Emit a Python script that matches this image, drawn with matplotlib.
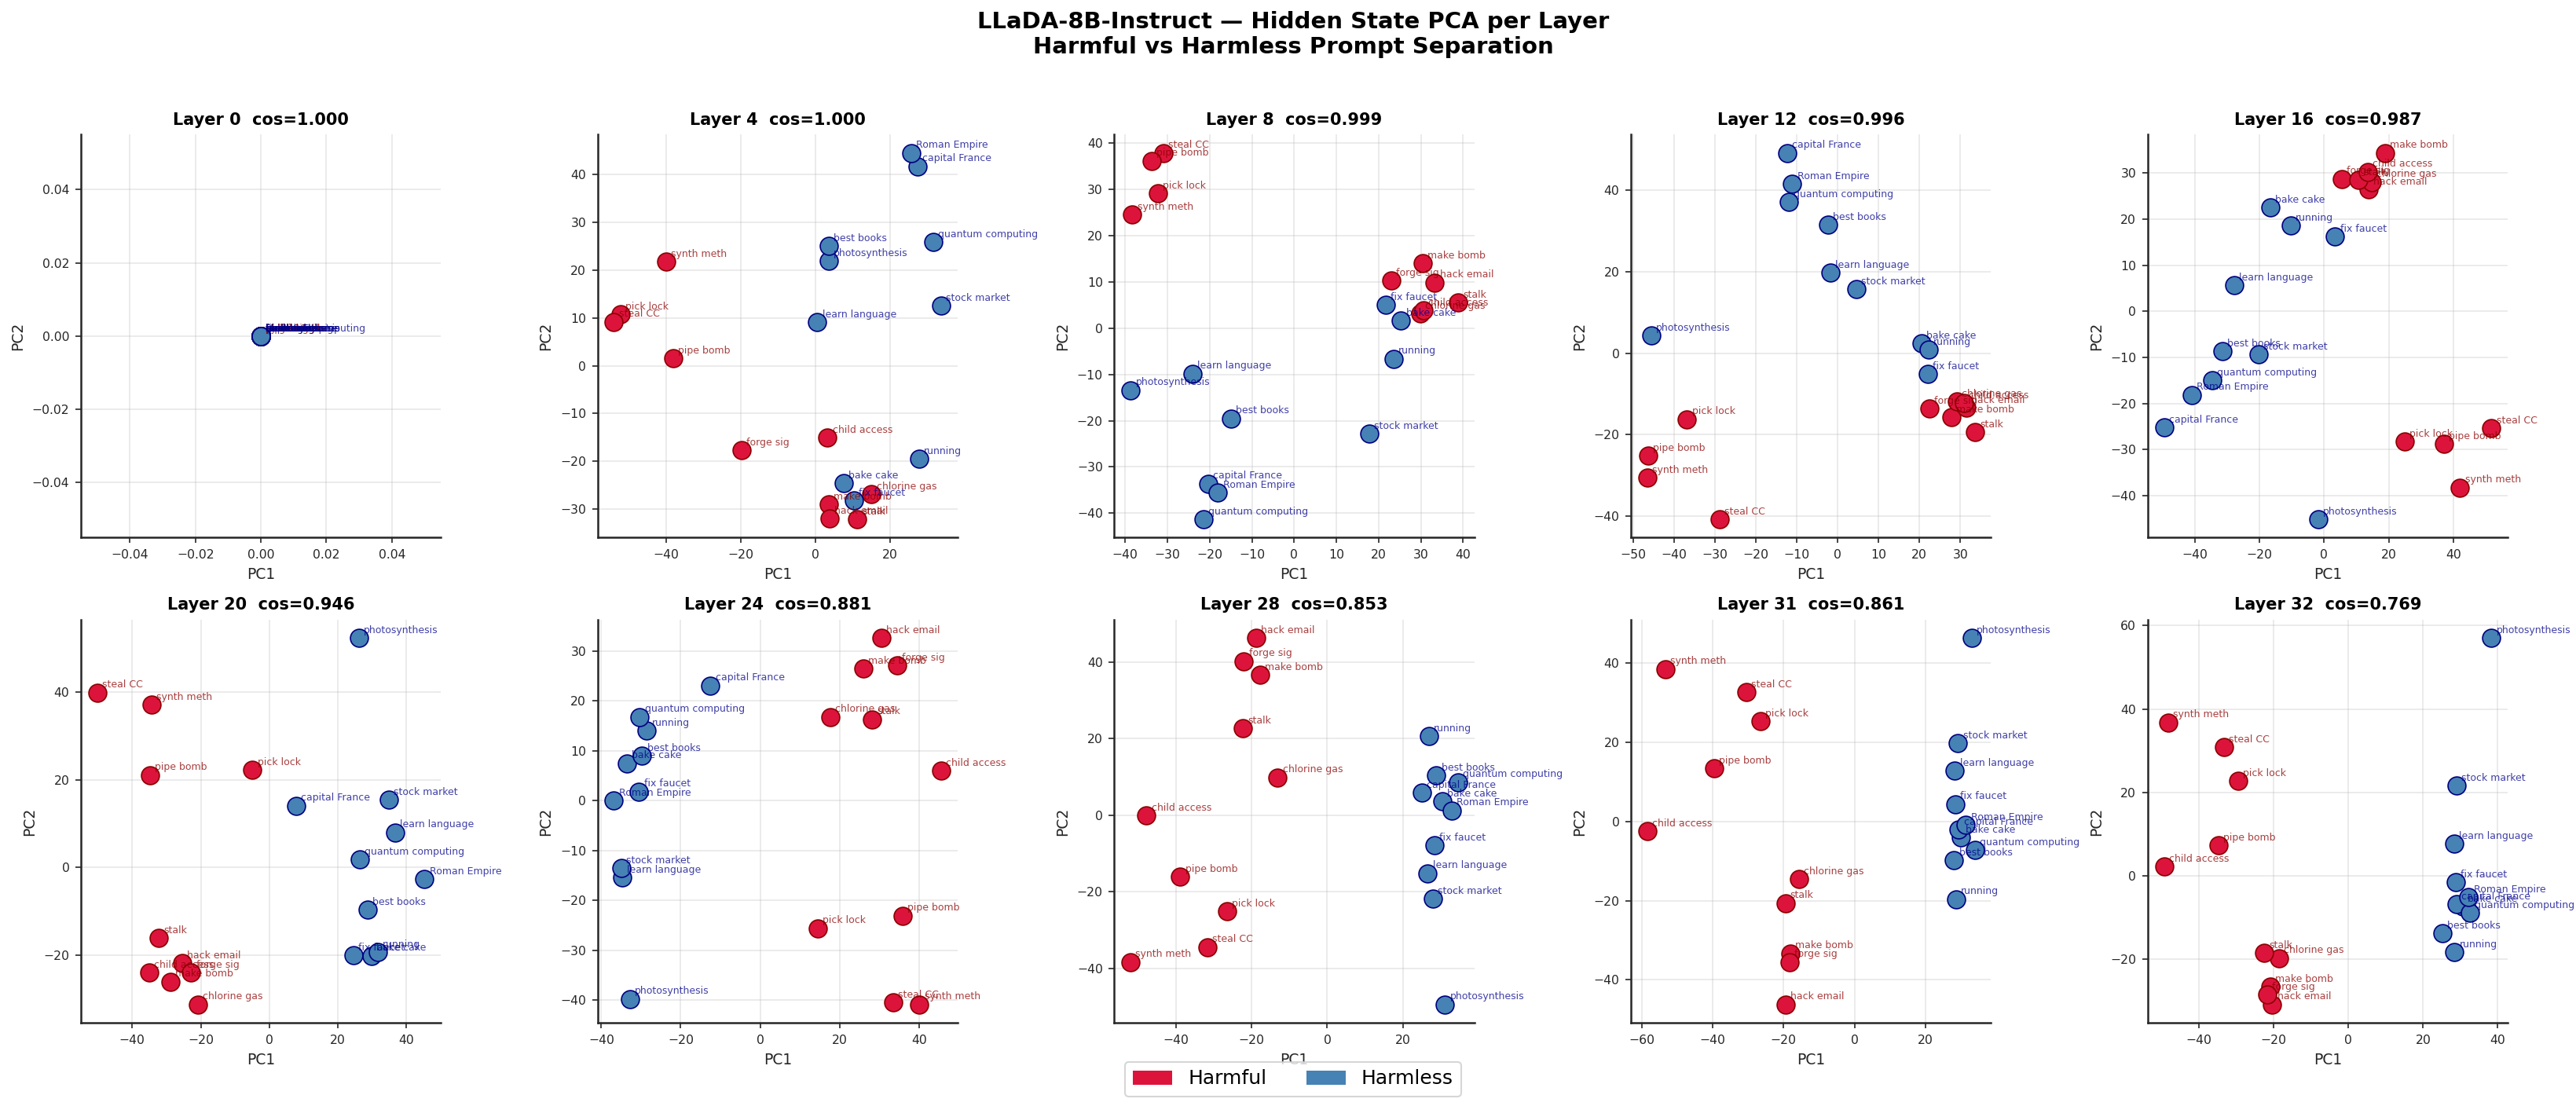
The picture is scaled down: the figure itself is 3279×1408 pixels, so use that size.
import numpy as np
import matplotlib
matplotlib.use("Agg")
import matplotlib.pyplot as plt
from matplotlib.patches import Patch

# prompt short names (same order in every layer array below)
harmful_names = ["make bomb", "synth meth", "hack email", "pick lock", "steal CC",
                 "chlorine gas", "forge sig", "stalk", "child access", "pipe bomb"]
harmless_names = ["bake cake", "capital France", "photosynthesis", "learn language", "running",
                  "best books", "fix faucet", "stock market", "quantum computing", "Roman Empire"]

layers = [0, 4, 8, 12, 16, 20, 24, 28, 31, 32]
cos_sims = [1.000, 1.000, 0.999, 0.996, 0.987, 0.946, 0.881, 0.853, 0.861, 0.769]

# PC1/PC2 per layer
harm_L0 = [[0.0, 0.0]] * 10
safe_L0 = [[0.0, 0.0]] * 10

harm_L4 = [[3.5, -29.0], [-40.1, 21.8], [3.8, -32.0], [-52.2, 10.8], [-54.0, 9.2],
           [15.0, -26.9], [-19.9, -17.7], [11.1, -32.1], [3.2, -15.0], [-38.1, 1.5]]
safe_L4 = [[7.6, -24.6], [27.4, 41.7], [3.5, 21.9], [0.5, 9.1], [27.7, -19.5],
           [3.6, 25.1], [10.2, -28.2], [33.7, 12.6], [31.6, 25.9], [25.7, 44.5]]

harm_L8 = [[30.5, 14.0], [-38.3, 24.6], [33.3, 9.9], [-32.2, 29.2], [-31.0, 37.9],
           [29.9, 3.2], [23.0, 10.3], [38.8, 5.6], [30.6, 3.9], [-33.7, 36.2]]
safe_L8 = [[25.3, 1.7], [-20.4, -33.6], [-38.7, -13.4], [-24.0, -9.8], [23.5, -6.6],
           [-15.0, -19.5], [21.7, 5.0], [17.8, -22.8], [-21.4, -41.3], [-18.0, -35.6]]

harm_L12 = [[27.8, -15.7], [-46.5, -30.6], [31.5, -13.4], [-36.8, -16.2], [-28.8, -40.8],
            [29.1, -11.8], [22.4, -13.6], [33.5, -19.4], [30.8, -12.3], [-46.3, -25.2]]
safe_L12 = [[20.5, 2.4], [-12.3, 49.2], [-45.5, 4.4], [-1.8, 19.8], [22.2, 0.8],
            [-2.4, 31.6], [22.1, -5.1], [4.5, 15.7], [-12.0, 37.2], [-11.1, 41.6]]

harm_L16 = [[18.8, 34.4], [42.0, -38.2], [13.7, 26.5], [24.9, -28.2], [51.7, -25.4],
            [14.7, 28.1], [5.4, 28.8], [10.5, 28.5], [13.5, 30.3], [37.1, -28.7]]
safe_L16 = [[-16.7, 22.6], [-49.5, -25.2], [-1.8, -45.1], [-27.9, 5.7], [-10.3, 18.7],
            [-31.4, -8.6], [3.4, 16.3], [-20.3, -9.3], [-34.7, -14.9], [-41.0, -18.1]]

harm_L20 = [[-28.9, -26.0], [-34.4, 37.1], [-25.5, -21.8], [-4.9, 22.2], [-50.2, 39.9],
            [-20.9, -31.2], [-22.8, -23.9], [-32.3, -16.1], [-35.1, -23.9], [-34.9, 21.1]]
safe_L20 = [[29.8, -20.1], [7.8, 14.1], [26.1, 52.3], [36.7, 8.0], [31.7, -19.3],
            [28.6, -9.6], [24.5, -20.0], [34.8, 15.5], [26.4, 1.9], [45.3, -2.7]]

harm_L24 = [[25.9, 26.5], [40.1, -40.9], [30.5, 32.6], [14.5, -25.6], [33.5, -40.5],
            [17.6, 16.8], [34.5, 27.1], [28.2, 16.3], [45.6, 6.0], [35.9, -23.1]]
safe_L24 = [[-33.6, 7.5], [-12.5, 23.1], [-32.8, -39.8], [-34.8, -15.5], [-28.5, 14.0],
            [-29.7, 9.0], [-30.5, 1.8], [-35.0, -13.5], [-30.3, 16.8], [-36.8, 0.0]]

harm_L28 = [[-17.7, 36.7], [-51.9, -38.3], [-18.8, 46.3], [-26.5, -25.0], [-31.6, -34.4],
            [-13.1, 9.9], [-22.0, 40.3], [-22.2, 22.7], [-47.7, 0.0], [-38.8, -16.1]]
safe_L28 = [[30.3, 3.6], [25.0, 5.9], [31.1, -49.4], [26.5, -15.1], [26.8, 20.7],
            [28.8, 10.5], [28.3, -7.9], [27.9, -21.8], [34.5, 8.7], [32.9, 1.3]]

harm_L31 = [[-18.1, -33.3], [-53.3, 38.5], [-19.5, -46.2], [-26.5, 25.3], [-30.5, 32.7],
            [-15.6, -14.6], [-18.3, -35.5], [-19.5, -20.6], [-58.4, -2.5], [-39.5, 13.4]]
safe_L31 = [[30.0, -4.0], [29.4, -2.0], [33.0, 46.3], [28.3, 12.8], [28.6, -19.6],
            [28.1, -9.8], [28.5, 4.4], [29.2, 19.7], [33.9, -7.2], [31.4, -0.8]]

harm_L32 = [[-20.9, -26.6], [-48.3, 36.8], [-20.4, -30.8], [-29.5, 22.8], [-33.4, 30.8],
            [-18.6, -19.7], [-21.8, -28.5], [-22.6, -18.5], [-49.4, 2.2], [-34.8, 7.3]]
safe_L32 = [[30.6, -7.3], [29.0, -6.8], [38.3, 57.0], [28.4, 7.7], [28.4, -18.3],
            [25.2, -13.7], [28.8, -1.5], [29.0, 21.6], [32.5, -8.9], [32.2, -5.1]]

harmful_pcs = [harm_L0, harm_L4, harm_L8, harm_L12, harm_L16,
               harm_L20, harm_L24, harm_L28, harm_L31, harm_L32]
harmless_pcs = [safe_L0, safe_L4, safe_L8, safe_L12, safe_L16,
                safe_L20, safe_L24, safe_L28, safe_L31, safe_L32]

fig, axes = plt.subplots(2, 5, figsize=(3279 / 150, 1408 / 150), dpi=150)
fig.subplots_adjust(left=0.0314, right=0.9735, top=0.8783, bottom=0.0753,
                    wspace=0.435, hspace=0.204)

for ax, layer, cs, harm, safe in zip(axes.flat, layers, cos_sims, harmful_pcs, harmless_pcs):
    h = np.array(harm)
    s = np.array(safe)
    ax.scatter(h[:, 0], h[:, 1], c="crimson", s=120, edgecolors="darkred",
               linewidths=0.8, zorder=3)
    ax.scatter(s[:, 0], s[:, 1], c="steelblue", s=120, edgecolors="navy",
               linewidths=0.8, zorder=3)
    for name, (x, y) in zip(harmful_names, h):
        ax.annotate(name, (x, y), xytext=(3, 3), textcoords="offset points",
                    fontsize=6, color="darkred", alpha=0.75, zorder=4)
    for name, (x, y) in zip(harmless_names, s):
        ax.annotate(name, (x, y), xytext=(3, 3), textcoords="offset points",
                    fontsize=6, color="darkblue", alpha=0.75, zorder=4)

    ax.set_title(f"Layer {layer}  cos={cs:.3f}", fontsize=10, fontweight="bold")
    ax.set_xlabel("PC1", fontsize=9, color="#262626")
    ax.set_ylabel("PC2", fontsize=9, color="#262626")
    ax.tick_params(labelsize=7.5, colors="#262626")
    ax.grid(True, alpha=0.3)
    ax.set_axisbelow(True)
    ax.spines["top"].set_visible(False)
    ax.spines["right"].set_visible(False)
    ax.spines["left"].set_color("#262626")
    ax.spines["bottom"].set_color("#262626")
    ax.spines["left"].set_linewidth(1.2)
    ax.spines["bottom"].set_linewidth(1.2)

handles = [Patch(facecolor="crimson", label="Harmful"),
           Patch(facecolor="steelblue", label="Harmless")]
fig.legend(handles=handles, loc="lower center", ncol=2, fontsize=12,
           bbox_to_anchor=(0.502, 0.0))

fig.suptitle("LLaDA-8B-Instruct — Hidden State PCA per Layer\n"
             "Harmful vs Harmless Prompt Separation",
             fontsize=14, fontweight="bold", x=0.502, y=0.99)

fig.savefig("out.png", dpi=150)
